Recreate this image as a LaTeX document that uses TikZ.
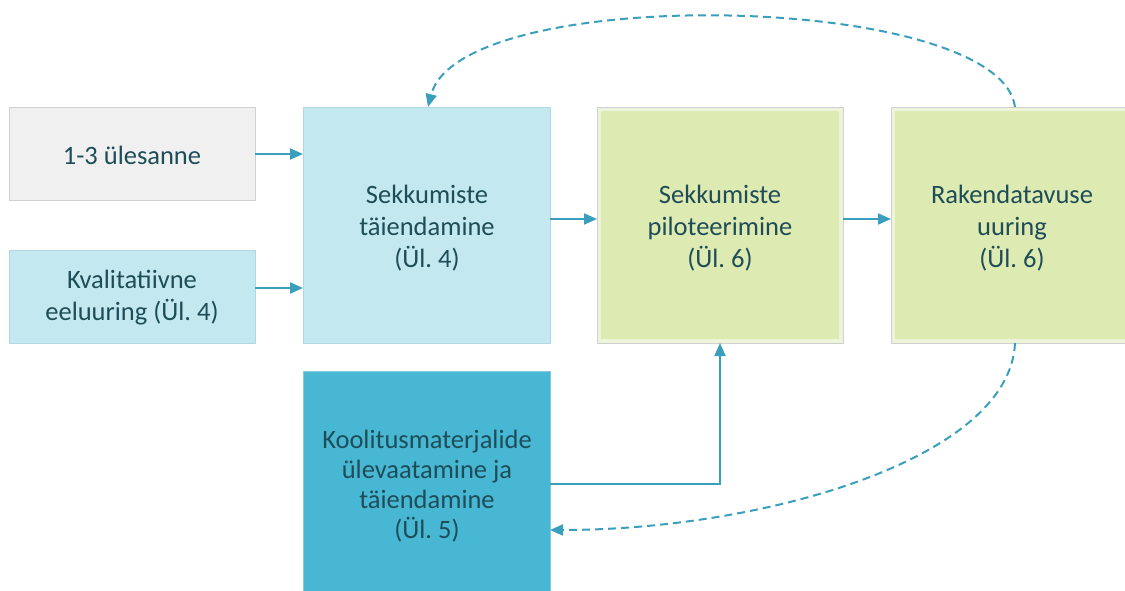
\documentclass[tikz,border=0pt]{standalone}
\usepackage{fontspec}
\setmainfont{Carlito}
\usetikzlibrary{arrows.meta}
\definecolor{txt}{HTML}{1E4D58}
\definecolor{arr}{HTML}{3A9FBD}
\definecolor{grayfill}{HTML}{F0F0F0}
\definecolor{grayline}{HTML}{D0D0D0}
\definecolor{lblue}{HTML}{C3E8F0}
\definecolor{lblueline}{HTML}{B0D8E2}
\definecolor{lgreen}{HTML}{DDEAB1}
\definecolor{lgreenline}{HTML}{EEF4D9}
\definecolor{dblue}{HTML}{48B7D3}
\begin{document}
\begin{tikzpicture}[x=1pt,y=-1pt,
  box/.style={rectangle,inner sep=0pt,text=txt,align=center,
    font=\fontsize{26.5}{32}\selectfont},
  flow/.style={draw=arr,line width=2pt,-{Triangle[length=13pt,width=11pt]}},
  back/.style={draw=arr,line width=2pt,dash pattern=on 8pt off 5pt,-{Triangle[length=13pt,width=11pt]}}]
\useasboundingbox (0,0) rectangle (1125,591);
% boxes
\filldraw[fill=grayfill,draw=grayline,line width=0.8pt] (9,107) rectangle (255,200);
\node[box] (a) at (132,155) {1-3 ülesanne};
\filldraw[fill=lblue,draw=lblueline,line width=0.8pt] (9,250) rectangle (255,343);
\node[box] (b) at (132,298) {Kvalitatiivne\\eeluuring (Ül.~4)};
\filldraw[fill=lblue,draw=lblueline,line width=0.8pt] (303,107) rectangle (550,343);
\node[box] (c) at (427,228) {Sekkumiste\\täiendamine\\(Ül.~4)};
\filldraw[fill=lgreen,draw=lgreenline,line width=4pt] (599,109) rectangle (841,341);
\draw[draw=grayline,line width=0.6pt] (597,107) rectangle (843,343);
\node[box] (d) at (720,228) {Sekkumiste\\piloteerimine\\(Ül.~6)};
\filldraw[fill=lgreen,draw=lgreenline,line width=4pt] (893,109) rectangle (1130,341);
\draw[draw=grayline,line width=0.6pt] (891,107) rectangle (1130,343);
\node[box] (e) at (1012,228) {Rakendatavuse\\uuring\\(Ül.~6)};
\fill[dblue] (303,371) rectangle (550,595);
\draw[draw=lblueline!60!dblue,line width=0.6pt] (303,595) -- (303,371) -- (550,371) -- (550,595);
\node[box,font=\fontsize{26.5}{30}\selectfont] (f) at (427,486) {Koolitusmaterjalide\\ülevaatamine ja\\täiendamine\\(Ül.~5)};
% anchors
\coordinate (a1) at (255,154); \coordinate (c1) at (303,154);
\coordinate (b1) at (255,288); \coordinate (c2) at (303,288);
\coordinate (c3) at (550,219); \coordinate (d1) at (597,219);
\coordinate (d2) at (843,219); \coordinate (e1) at (891,219);
\coordinate (f1) at (550,484); \coordinate (d3) at (720,343);
\coordinate (etop) at (1015,107); \coordinate (ctop) at (428,107);
\coordinate (ebot) at (1015,343); \coordinate (fr) at (550,530);
\draw[flow] (a1) -- (c1);
\draw[flow] (b1) -- (c2);
\draw[flow] (c3) -- (d1);
\draw[flow] (d2) -- (e1);
\draw[flow] (f1) -- (720,484) -- (d3);
\draw[back] (etop) .. controls (1000,-8) and (460,-18) .. (ctop);
\draw[back] (ebot) .. controls (1010,460) and (760,530) .. (fr);
\end{tikzpicture}
\end{document}
